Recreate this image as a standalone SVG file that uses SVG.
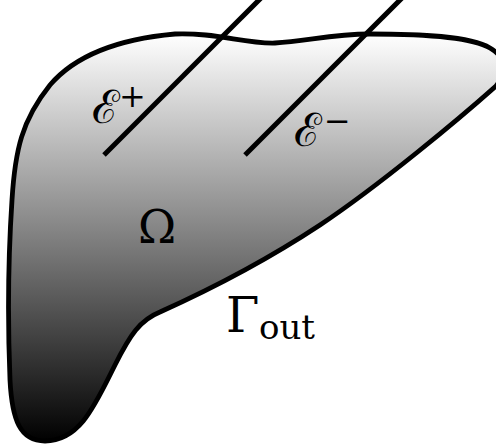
<svg xmlns="http://www.w3.org/2000/svg" width="496" height="446" viewBox="0 0 496 446">
<defs>
<linearGradient id="g" gradientUnits="userSpaceOnUse" x1="0" y1="34" x2="0" y2="442">
<stop offset="0" stop-color="#ffffff"/>
<stop offset="1" stop-color="#000000"/>
</linearGradient>
</defs>
<style>
.lbl{font-family:'DejaVu Serif',serif;fill:#000}
.el{stroke:#000;stroke-width:5;fill:none}
</style>
<g id="domain">
<path d="M175,34 C215,32 245,44 275,43 C305,42 330,34 370,34 C420,34 470,36 490,48 C510,60 505,75 496,86 C460,118 380,185 320,225 C270,258 220,285 160,312 C140,320 130,335 115,365 C95,405 80,441 45,441 C20,441 12,420 10,380 C8,330 8,260 12,200 C15,150 22,120 50,85 C80,50 130,38 175,34 Z" fill="url(#g)" stroke="#000" stroke-width="4.8"/>
</g>
<g id="electrodes">
<line class="el" x1="261" y1="-2" x2="104" y2="155"/>
<line class="el" x1="402" y1="-2" x2="245" y2="155"/>
</g>
<g id="labels">
<text class="lbl" x="92" y="123" font-size="46">ℰ</text>
<text class="lbl" x="119" y="107" font-size="32">+</text>
<text class="lbl" x="294" y="146" font-size="46">ℰ</text>
<text class="lbl" x="324" y="132" font-size="32">−</text>
<text class="lbl" x="157" y="243" font-size="46" text-anchor="middle">Ω</text>
<text class="lbl" x="226" y="332" font-size="48">Γ</text>
<text class="lbl" x="259" y="339" font-size="34">out</text>
</g>
</svg>
